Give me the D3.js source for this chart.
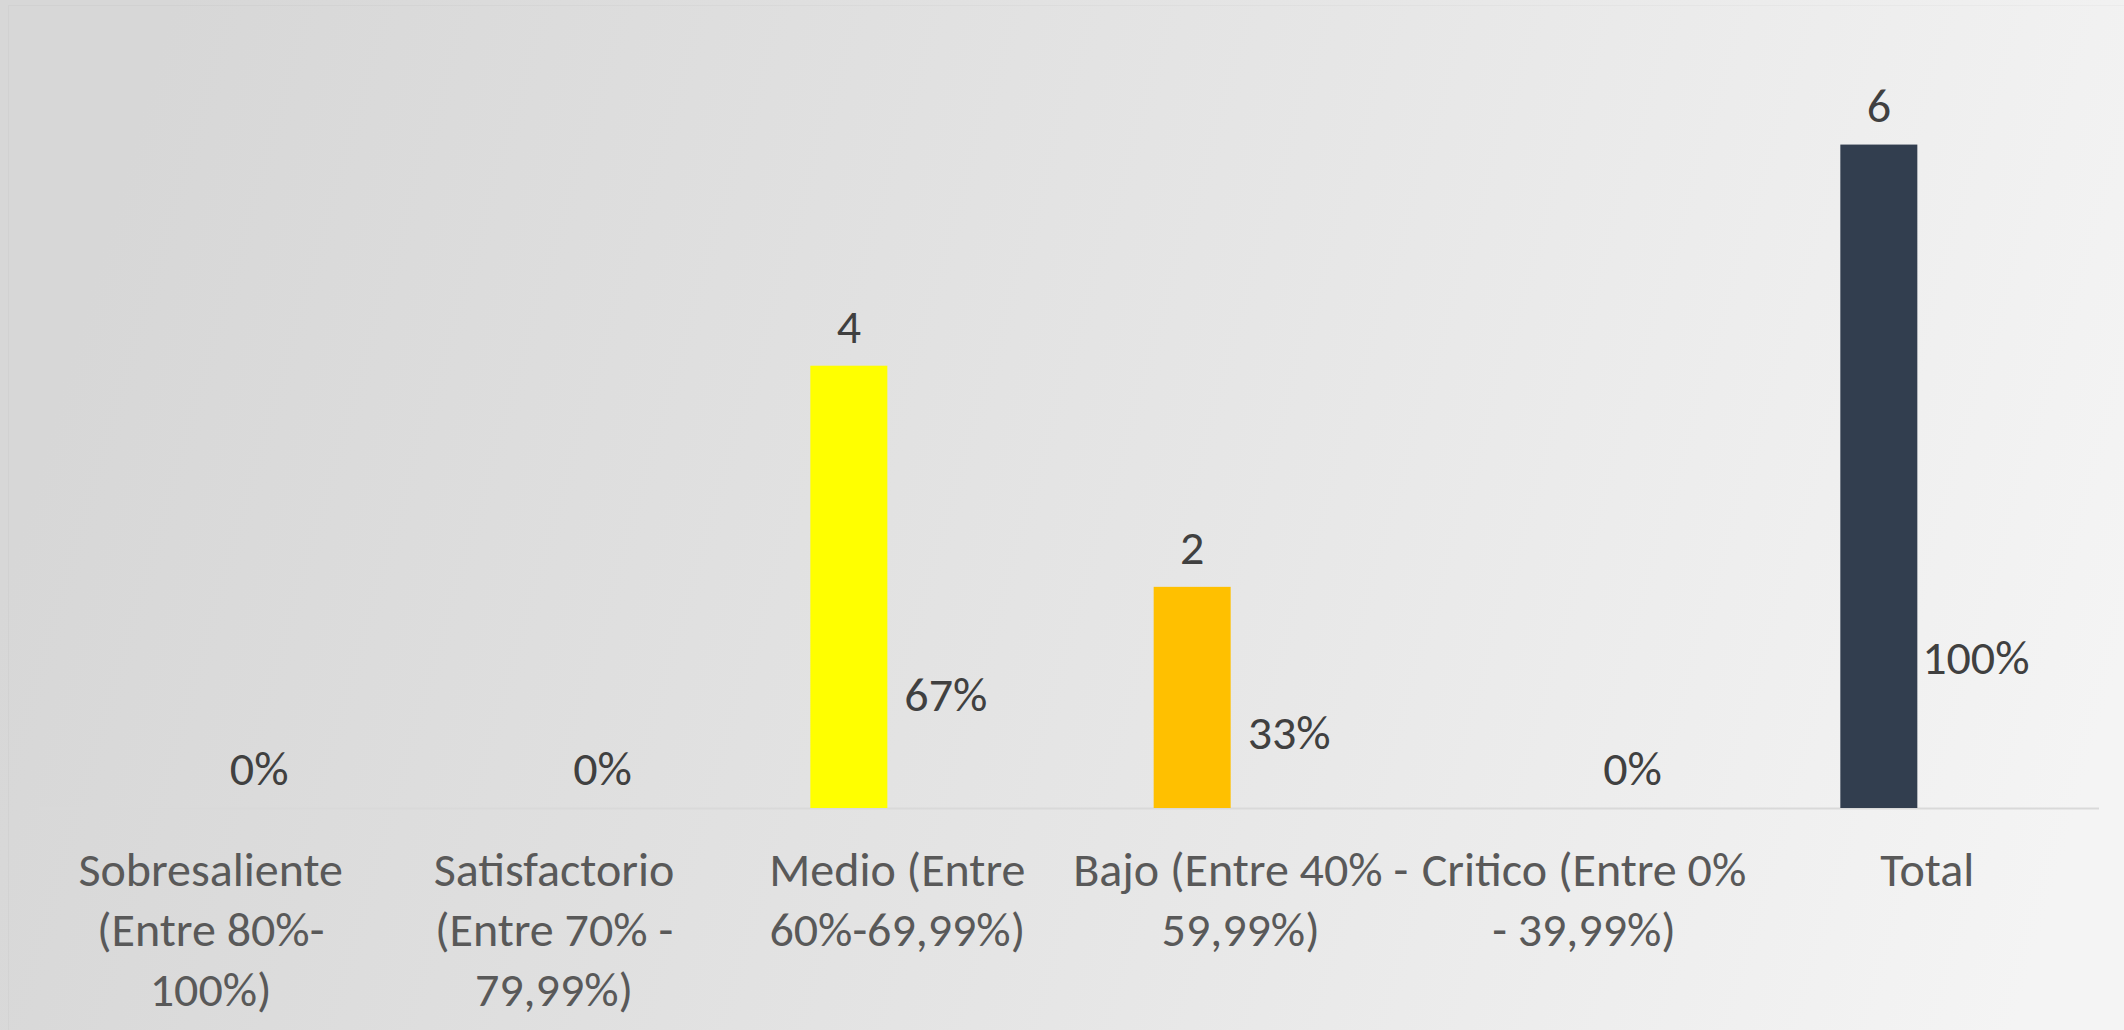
<!DOCTYPE html>
<html>
<head>
<meta charset="utf-8">
<script src="https://cdn.jsdelivr.net/npm/d3@7"></script>
<style>
  html, body { margin: 0; padding: 0; overflow: hidden; }
  body { width: 2124px; height: 1030px; }
  text { font-family: Carlito, Calibri, 'Liberation Sans Narrow', 'Arial Narrow', 'Noto Sans', sans-serif; }
</style>
</head>
<body>
<div id="chart"></div>
<script>
// data
var categories = ['Sobresaliente (Entre 80%-100%)', 'Satisfactorio (Entre 70% - 79,99%)',
    'Medio (Entre 60%-69,99%)', 'Bajo (Entre 40% - 59,99%)', 'Critico (Entre 0% - 39,99%)', 'Total'];
var tickLines = [
    ['Sobresaliente', '(Entre 80%-', '100%)'],
    ['Satisfactorio', '(Entre 70% -', '79,99%)'],
    ['Medio (Entre', '60%-69,99%)'],
    ['Bajo (Entre 40% -', '59,99%)'],
    ['Critico (Entre 0%', '- 39,99%)'],
    ['Total']
];
var counts = [0, 0, 4, 2, 0, 6];
var shares = [0, 0, 0.67, 0.33, 0, 1];
var barColors = ['#ffff00', '#ffff00', '#ffff00', '#ffc000', '#ffc000', '#323e4f'];

var W = 2124, H = 1030;

function svgr(id, w, h) {
    return d3.select(id)
        .append('svg')
        .attr('width', w)
        .attr('height', h)
        .attr('xmlns', 'http://www.w3.org/2000/svg');
}

var svg = svgr('#chart', W, H);

// background
var grad = svg.append('defs').append('linearGradient')
    .attr('id', 'bg')
    .attr('gradientUnits', 'userSpaceOnUse')
    .attr('x1', 150).attr('y1', 80)
    .attr('x2', 2124).attr('y2', 650);
grad.selectAll('stop')
    .data([
        { offset: '0%', color: '#d7d7d7' },
        { offset: '55%', color: '#e6e6e6' },
        { offset: '100%', color: '#f4f4f4' }
    ])
    .enter()
    .append('stop')
    .attr('offset', (d) => d.offset)
    .attr('stop-color', (d) => d.color);

svg.append('rect')
    .attr('width', W).attr('height', H)
    .attr('fill', 'url(#bg)');
svg.append('rect')
    .attr('x', 8.5).attr('y', 5.5)
    .attr('width', W).attr('height', H)
    .attr('fill', 'none')
    .attr('stroke', '#000').attr('stroke-opacity', 0.025);

var x = d3.scaleBand()
    .domain(categories)
    .range([39, 2099])
    .paddingInner(0.49)
    .paddingOuter(0.245);
var bw = 77;
var off = 48.5;
var cx = (d) => x(d) + x.bandwidth() / 2;

var y = d3.scaleLinear()
    .domain([0, 7])
    .range([808, 34]);

// axis line
svg.append('line')
    .attr('x1', 39).attr('x2', 2099)
    .attr('y1', y(0) + 0.5).attr('y2', y(0) + 0.5)
    .attr('stroke', '#d9d9d9')
    .attr('stroke-width', 2);

var rows = categories.map((c, i) => ({ cat: c, n: counts[i], p: shares[i], color: barColors[i], lines: tickLines[i] }));

// count bars
svg.selectAll('.bar')
    .data(rows)
    .enter()
    .append('rect')
    .attr('class', 'bar')
    .attr('x', (d) => cx(d.cat) - off - bw / 2)
    .attr('width', bw)
    .attr('y', (d) => y(d.n))
    .attr('height', (d) => y(0) - y(d.n))
    .attr('fill', (d) => d.color);

// count labels (only where there is a bar)
svg.selectAll('.nlab')
    .data(rows.filter((d) => d.n > 0))
    .enter()
    .append('text')
    .attr('class', 'nlab')
    .attr('x', (d) => cx(d.cat) - off)
    .attr('y', (d) => y(d.n) - 23)
    .attr('text-anchor', 'middle')
    .attr('font-size', 48)
    .attr('fill', '#404040')
    .text((d) => d.n);

// share labels (share series has no visible fill)
svg.selectAll('.plab')
    .data(rows)
    .enter()
    .append('text')
    .attr('class', 'plab')
    .attr('x', (d) => cx(d.cat) + off)
    .attr('y', (d) => y(d.p) - 23)
    .attr('text-anchor', 'middle')
    .attr('font-size', 48)
    .attr('fill', '#404040')
    .text((d) => d3.format('.0%')(d.p));

// category labels
var ticks = svg.selectAll('.tick')
    .data(rows)
    .enter()
    .append('text')
    .attr('class', 'tick')
    .attr('text-anchor', 'middle')
    .attr('font-size', 48)
    .attr('fill', '#595959');
ticks.selectAll('tspan')
    .data((d) => d.lines.map((l) => ({ l: l, c: cx(d.cat) })))
    .enter()
    .append('tspan')
    .attr('x', (d) => d.c)
    .attr('y', (d, i) => 886 + i * 60)
    .text((d) => d.l);
</script>
</body>
</html>
